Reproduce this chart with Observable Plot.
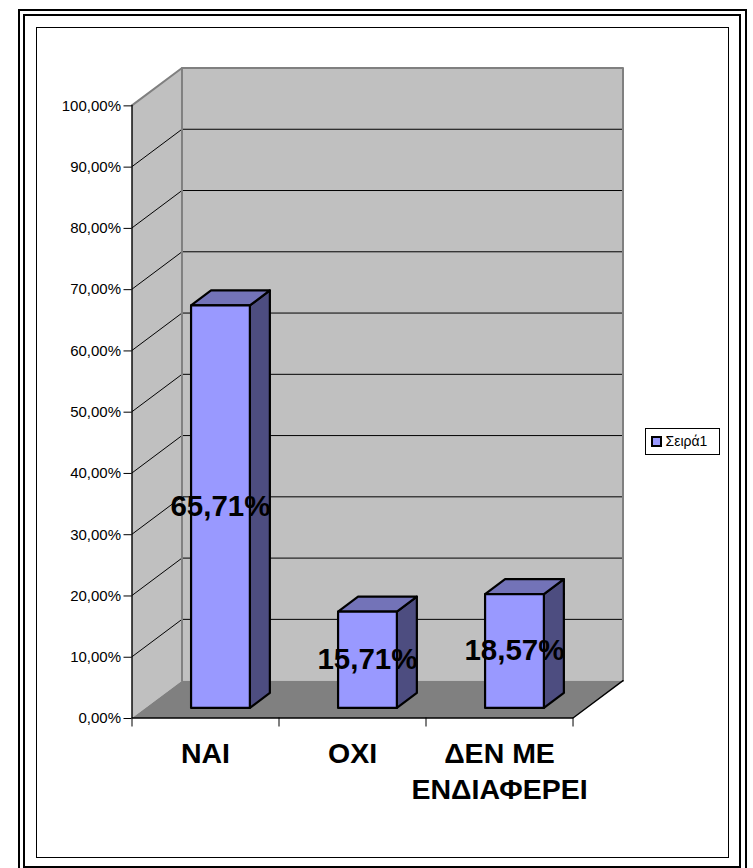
<!DOCTYPE html>
<html lang="el">
<head>
<meta charset="utf-8">
<style>
html,body{margin:0;padding:0;background:#fff;overflow:hidden}
#page{position:relative;width:753px;height:868px;overflow:hidden;font-family:"Liberation Sans",Arial,sans-serif}
.frame{position:absolute;box-sizing:border-box;border-style:solid;border-color:#000}
#f1{left:18px;top:9px;width:729px;height:870px;border-width:2.5px}
#f2{left:23px;top:14px;width:718px;height:854px;border-width:2px}
#f3{left:36px;top:27px;width:692.5px;height:830.5px;border-width:1px}
#page svg{position:absolute;left:0;top:0;display:block;background:transparent}
#legend{position:absolute;left:644.5px;top:428px;width:75.5px;height:27px;box-sizing:border-box;border:1px solid #000;background:#fff;color:#000;font-size:14px;line-height:25px;padding-left:20px}
#legend i{position:absolute;left:5px;top:7px;width:11px;height:11px;box-sizing:border-box;border:2px solid #000;background:#9999ff}
</style>
<script src="https://cdn.jsdelivr.net/npm/d3@7"></script>
<script src="https://cdn.jsdelivr.net/npm/@observablehq/plot@0.6"></script>
</head>
<body>
<div id="page">
  <div class="frame" id="f1"></div>
  <div class="frame" id="f2"></div>
  <div class="frame" id="f3"></div>
  <div id="legend"><i></i>Σειρά1</div>
</div>
<script>
const categories = ["ΝΑΙ", "ΟΧΙ", "ΔΕΝ ΜΕ\nΕΝΔΙΑΦΕΡΕΙ"];
const values = [65.71, 15.71, 18.57];
const valueLabels = ["65,71%", "15,71%", "18,57%"];
const yTicks = [0, 10, 20, 30, 40, 50, 60, 70, 80, 90, 100];
const gridValues = [10, 20, 30, 40, 50, 60, 70, 80, 90];
const categoryEdges = [0, 1, 2, 3];
const categoryCentres = [0.5, 1.5, 2.5];
const seriesName = "Σειρά1";

// oblique 3-D projection, expressed in data units
const depthX = 0.34, depthY = 6.1;
const barInset = 0.31, barWidth = 0.4, barFront = 0.27, barBack = 0.67;
const P = (c, v, d) => ({x: c + d * depthX, y: v + d * depthY});
const poly = (id, pts) => pts.map(([c, v, d]) => ({id, ...P(c, v, d)}));

const leftWall = poly("l", [[0,0,0],[0,100,0],[0,100,1],[0,0,1]]);
const backWall = poly("b", [[0,0,1],[0,100,1],[3,100,1],[3,0,1]]);
const floorFace = poly("f", [[0,0,0],[0,0,1],[3,0,1],[3,0,0]]);
const gridLines = gridValues.flatMap(v => poly(v, [[0,v,0],[0,v,1],[3,v,1]]));
const wallEdges = [
  ...poly("t", [[0,100,0],[0,100,1],[3,100,1],[3,0,1]]),
  ...poly("v", [[0,100,1],[0,0,1]])
];
const axisEdges = poly("a", [[0,100,0],[0,0,0],[3,0,0],[3,0,1]]);

const x0 = i => i + barInset, x1 = i => i + barInset + barWidth;
const frontFaces = values.flatMap((v, i) => poly(i, [[x0(i),0,barFront],[x0(i),v,barFront],[x1(i),v,barFront],[x1(i),0,barFront]]));
const topFaces = values.flatMap((v, i) => poly(i, [[x0(i),v,barFront],[x0(i),v,barBack],[x1(i),v,barBack],[x1(i),v,barFront]]));
const sideFaces = values.flatMap((v, i) => poly(i, [[x1(i),0,barFront],[x1(i),v,barFront],[x1(i),v,barBack],[x1(i),0,barBack]]));
const labelPoints = values.map((v, i) => ({...P(i + barInset + barWidth / 2, v / 2, barFront), text: valueLabels[i]}));

const fmt = v => v.toFixed(2).replace(".", ",") + "%";

const chart = Plot.plot({
  width: 753, height: 868,
  marginLeft: 131.5, marginRight: 130.5, marginTop: 67.5, marginBottom: 150.5,
  style: {background: "transparent", fontFamily: '"Liberation Sans", Arial, sans-serif', color: "#000"},
  x: {domain: [0, 3 + depthX], range: [131.5, 622.5]},
  y: {domain: [0, 100 + depthY], range: [717.5, 67.5]},
  marks: [
    Plot.line(leftWall, {x: "x", y: "y", z: "id", curve: "linear-closed", fill: "#c0c0c0", stroke: "none"}),
    Plot.line(backWall, {x: "x", y: "y", z: "id", curve: "linear-closed", fill: "#c0c0c0", stroke: "none"}),
    Plot.line(floorFace, {x: "x", y: "y", z: "id", curve: "linear-closed", fill: "#808080", stroke: "none"}),
    Plot.line(gridLines, {x: "x", y: "y", z: "id", stroke: "#000", strokeWidth: 1}),
    Plot.line(wallEdges, {x: "x", y: "y", z: "id", stroke: "#808080", strokeWidth: 2}),
    Plot.line(axisEdges, {x: "x", y: "y", z: "id", stroke: "#000", strokeWidth: 1.4}),
    Plot.axisY(yTicks, {anchor: "left", tickSize: 8, tickPadding: 3, fontSize: 15, label: null, tickFormat: fmt, stroke: "#000", textStroke: "none", dy: 0.5}),
    Plot.axisX(categoryEdges, {anchor: "bottom", tickSize: 9, label: null, text: null}),
    Plot.axisX(categoryCentres, {anchor: "bottom", tickSize: 0, tickPadding: 19, label: null, fontSize: 28.5, fontWeight: "bold", lineHeight: 1.27, tickFormat: c => categories[c - 0.5]}),
    Plot.line(sideFaces, {x: "x", y: "y", z: "id", curve: "linear-closed", fill: "#4d4d80", stroke: "#000", strokeWidth: 2.2}),
    Plot.line(topFaces, {x: "x", y: "y", z: "id", curve: "linear-closed", fill: "#7373b8", stroke: "#000", strokeWidth: 2.2}),
    Plot.line(frontFaces, {x: "x", y: "y", z: "id", curve: "linear-closed", fill: "#9999ff", stroke: "#000", strokeWidth: 2.2}),
    Plot.text(labelPoints, {x: "x", y: "y", text: "text", fontSize: 29.5, fontWeight: "bold", fill: "#000"})
  ]
});
document.getElementById("page").insertBefore(chart, document.getElementById("legend"));
</script>
</body>
</html>
